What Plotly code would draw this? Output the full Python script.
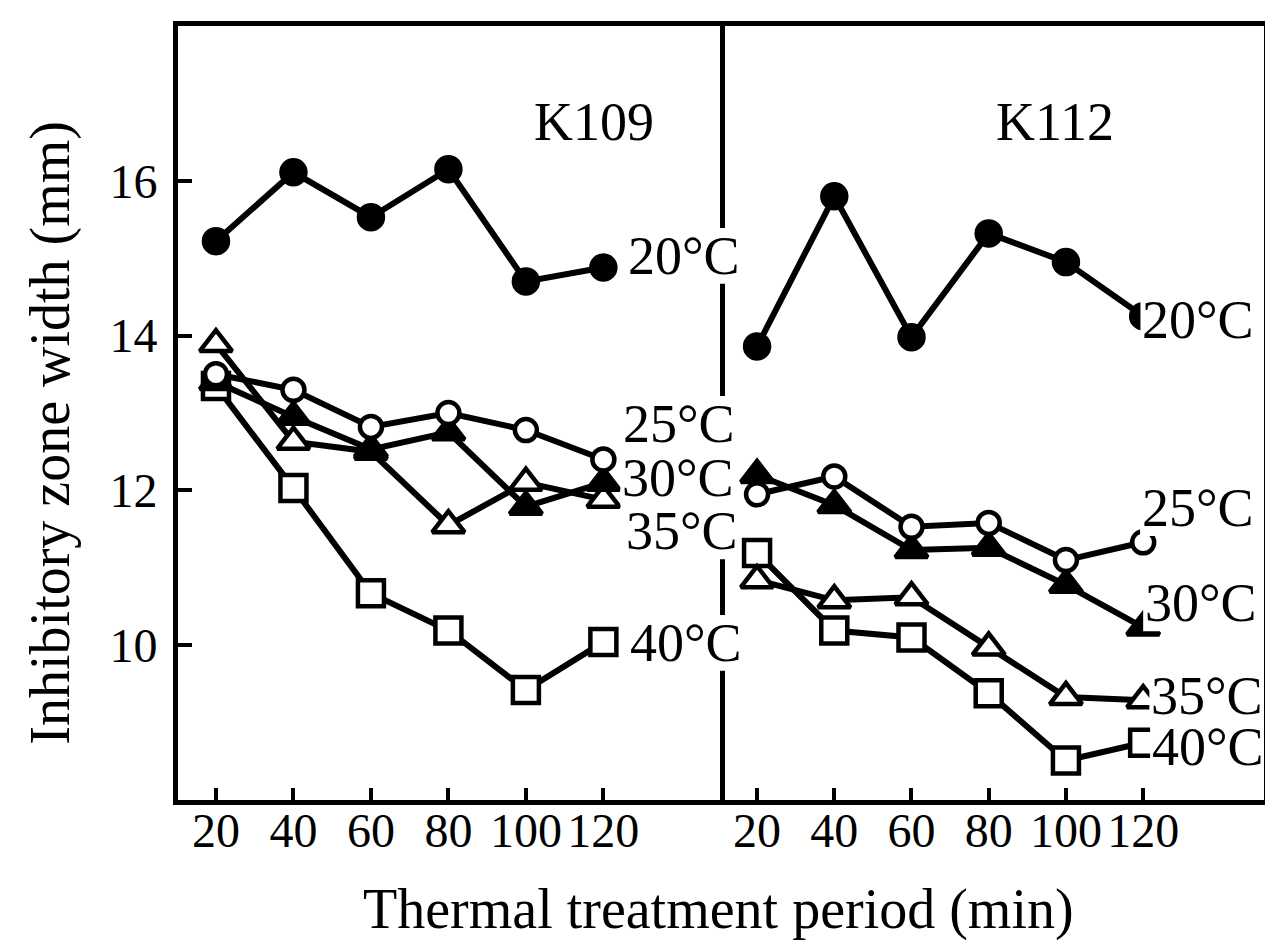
import plotly.graph_objects as go

# ---------------- data ----------------
minutes = [20, 40, 60, 80, 100, 120]
tick_labels = ["20", "40", "60", "80", "100", "120"]
temps = ["20°C", "25°C", "30°C", "35°C", "40°C"]
y_ticks = [10, 12, 14, 16]

k109_20 = [15.22, 16.11, 15.53, 16.15, 14.70, 14.88]
k109_25 = [13.50, 13.30, 12.82, 13.00, 12.78, 12.40]
k109_30 = [13.40, 12.95, 12.53, 12.75, 11.79, 12.10]
k109_35 = [13.89, 12.63, 12.50, 11.55, 12.10, 11.88]
k109_40 = [13.35, 12.03, 10.67, 10.19, 9.42, 10.04]

k112_20 = [13.86, 15.80, 13.98, 15.32, 14.95, 14.25]
k112_25 = [11.95, 12.18, 11.53, 11.58, 11.10, 11.33]
k112_30 = [12.20, 11.81, 11.23, 11.26, 10.78, 10.23]
k112_35 = [10.84, 10.58, 10.62, 9.97, 9.33, 9.29]
k112_40 = [11.19, 10.19, 10.10, 9.38, 8.51, 8.74]

# label anchor positions (data coords) for the temperature labels
k109_label_x = [125.9, 124.6, 124.4, 125.4, 126.4]
k109_label_y = [15.03, 12.86, 12.16, 11.47, 10.03]
k112_label_x = [119.3, 119.2, 120.0, 121.6, 121.8]
k112_label_y = [14.20, 11.77, 10.54, 9.35, 8.68]

# ---------------- styles ----------------
FONT = "Liberation Serif"
styles = {
    "20°C": dict(symbol="circle", color="black", size=24),
    "25°C": dict(symbol="circle", color="white", size=22),
    "30°C": dict(symbol="triangle-up", color="black", size=28),
    "35°C": dict(symbol="triangle-up", color="white", size=28),
    "40°C": dict(symbol="square", color="white", size=26),
}

fig = go.Figure()

panels = [
    ("x", "y", [k109_20, k109_25, k109_30, k109_35, k109_40]),
    ("x2", "y2", [k112_20, k112_25, k112_30, k112_35, k112_40]),
]
for xa, ya, series in panels:
    for t, vals in reversed(list(zip(temps, series))):
        st = styles[t]
        fig.add_trace(go.Scatter(
            x=minutes, y=vals, xaxis=xa, yaxis=ya, mode="lines+markers",
            line=dict(color="black", width=6),
            marker=dict(symbol=st["symbol"], size=st["size"], color=st["color"],
                        line=dict(color="black", width=4.5)),
            showlegend=False, cliponaxis=False,
        ))

label_font = dict(family=FONT, size=54, color="black")
annotations = []
# white patches behind the labels (they break the frame line and hide marker parts)
for xr, yr, xs, ys in [("x", "y", k109_label_x, k109_label_y),
                       ("x2", "y2", k112_label_x, k112_label_y)]:
    for t, lx, ly in zip(temps, xs, ys):
        fig.add_shape(type="rect", xref=xr, yref=yr, x0=lx, x1=lx + 28.5,
                      y0=ly - 0.36, y1=ly + 0.36, fillcolor="white",
                      line=dict(width=0), layer="above")
        annotations.append(dict(x=lx, y=ly, xref=xr, yref=yr, text=t, showarrow=False,
                                xanchor="left", yanchor="middle", font=label_font))

annotations += [
    dict(x=0.383, y=0.917, xref="paper", yref="paper", text="K109", showarrow=False,
         font=label_font),
    dict(x=0.864, y=0.917, xref="paper", yref="paper", text="K112", showarrow=False,
         font=label_font),
    dict(x=0.498, y=-0.142, xref="paper", yref="paper", text="Thermal treatment period (min)",
         showarrow=False, yanchor="middle",
         font=dict(family=FONT, size=56, color="black")),
    dict(x=-0.1176, y=0.475, xref="paper", yref="paper", text="Inhibitory zone width (mm)",
         showarrow=False, textangle=-90, xanchor="center", yanchor="middle",
         font=dict(family=FONT, size=56, color="black")),
]

div = 0.5037
line_common = dict(showline=True, linecolor="black", linewidth=5,
                   showgrid=False, zeroline=False)
xtick_common = dict(tickvals=minutes, ticktext=tick_labels, ticks="inside", ticklen=12,
                    tickwidth=4, tickcolor="black", ticklabelstandoff=-16,
                    tickfont=dict(family=FONT, size=48, color="black"))
fig.update_layout(
    width=1273, height=948,
    margin=dict(l=170, r=15, t=18, b=156),
    paper_bgcolor="white", plot_bgcolor="white",
    annotations=annotations,
    xaxis=dict(domain=[0, div], range=[10.2, 151.4], mirror=True, **xtick_common, **line_common),
    xaxis2=dict(domain=[div, 1], range=[11.7, 151.3], anchor="y2", mirror=True,
                **xtick_common, **line_common),
    yaxis=dict(range=[8.0, 18.0], tickvals=y_ticks, ticks="inside", ticklen=14, tickwidth=4,
               tickcolor="black", ticklabelstandoff=6, mirror=False,
               tickfont=dict(family=FONT, size=48, color="black"), **line_common),
    yaxis2=dict(range=[8.0, 18.0], anchor="x2", showticklabels=False, ticks="", mirror=True,
                **line_common),
)

fig.write_html("out.html")
